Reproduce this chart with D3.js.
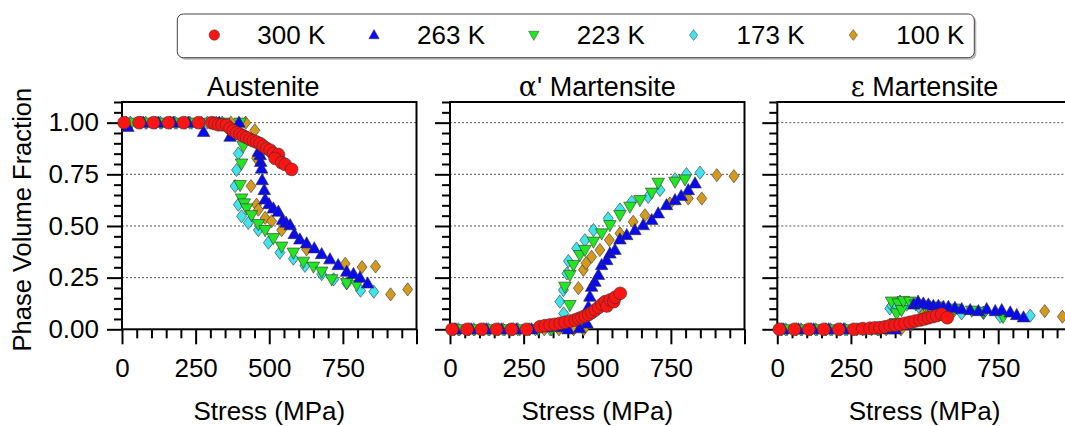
<!DOCTYPE html>
<html lang="en">
  <head>
    <meta charset="utf-8">
    <script src="https://d3js.org/d3.v7.min.js"></script>
    <title>Phase Volume Fraction</title>
    <style>
      body {
        margin: 0;
        background-color: #fff;
      }
      svg {
        font-family: "Liberation Sans", Arial, sans-serif;
        display: block;
      }
      .grid {
        stroke: #555;
        stroke-width: 1;
        stroke-dasharray: 2, 2;
      }
      .tick line {
        stroke: #000;
        stroke-width: 2;
      }
    </style>
  </head>
  <body>
    <script>
      // legend + panels
      const temps = ['300 K', '263 K', '223 K', '173 K', '100 K'];
      const phases = ['Austenite', "\u03b1' Martensite", '\u03b5 Martensite'];
      const xTicks = [0, 250, 500, 750, 1000];
      const xLabels = ['0', '250', '500', '750', ''];
      const yTicks = [0, 0.25, 0.5, 0.75, 1.0];

      // [stress MPa, fraction]
      const aus300 = [[7,1],[58,1],[107,1],[158,1],[209,1],[260,1],[305,1],[316,0.995],[328,0.99],[340,0.99],[355,0.988],[367,0.972],[378,0.961],[389,0.951],[401,0.944],[412,0.936],[423,0.928],[435,0.919],[446,0.912],[457,0.906],[469,0.899],[480,0.886],[491,0.875],[503,0.867],[514,0.851],[531,0.846],[520,0.827],[542,0.806],[554,0.798],[576,0.774]];
      const alpha300 = [[7,0],[58,0],[107,0],[158,0],[209,0],[260,0],[306,0.013],[323,0.018],[340,0.021],[357,0.024],[374,0.029],[391,0.034],[408,0.04],[425,0.045],[437,0.052],[448,0.058],[459,0.064],[471,0.072],[482,0.082],[493,0.093],[505,0.106],[516,0.121],[527,0.134],[533,0.113],[544,0.142],[556,0.134],[561,0.155],[578,0.174]];
      const eps300 = [[7,0],[58,0],[107,0],[158,0],[209,0],[260,0],[290,0.003],[315,0.005],[332,0.007],[349,0.008],[366,0.012],[383,0.018],[400,0.02],[417,0.024],[434,0.029],[451,0.034],[468,0.04],[485,0.045],[499,0.05],[513,0.056],[527,0.061],[541,0.066],[558,0.073],[577,0.056]];

      const aus263 = [[20,0.98],[72,1],[123,1],[174,1],[225,1],[277,0.955],[330,1],[367,0.932],[397,1],[463,0.859],[469,0.843],[471,0.81],[474,0.778],[476,0.722],[483,0.674],[486,0.629],[499,0.606],[514,0.585],[531,0.569],[545,0.529],[557,0.516],[571,0.504],[585,0.461],[604,0.435],[627,0.416],[653,0.392],[678,0.364],[706,0.339],[734,0.311],[763,0.279],[786,0.268],[808,0.25],[834,0.222]];
      const alpha263 = [[20,0],[72,0],[123,0],[174,0],[225,0],[277,0],[330,0.01],[379,0.01],[401,0],[440,0.005],[465,0.029],[470,0.109],[475,0.158],[481,0.206],[492,0.23],[504,0.263],[515,0.311],[532,0.335],[543,0.367],[560,0.384],[577,0.435],[600,0.456],[628,0.48],[656,0.504],[685,0.529],[707,0.561],[735,0.601],[764,0.625],[785,0.645],[809,0.674],[832,0.706]];
      const eps263 = [[20,0],[72,0],[123,0],[174,0],[225,0],[277,0],[330,0],[379,0],[401,0],[440,0.02],[463,0.12],[478,0.134],[496,0.125],[513,0.12],[530,0.114],[547,0.114],[564,0.109],[581,0.109],[603,0.104],[626,0.098],[655,0.093],[683,0.088],[711,0.098],[740,0.088],[762,0.093],[791,0.082],[813,0.069],[836,0.058]];

      const aus223 = [[33,1],[84,1],[135,1],[186,1],[237,1],[299,1],[345,1],[401,1],[412,0.886],[406,0.802],[401,0.698],[406,0.633],[415,0.609],[423,0.585],[440,0.552],[463,0.509],[486,0.48],[514,0.441],[542,0.4],[582,0.371],[616,0.327],[650,0.303],[678,0.279],[712,0.242],[763,0.223],[797,0.215]];
      const alpha223 = [[33,0],[84,0],[135,0],[186,0],[237,0],[299,0],[345,0],[401,0.02],[407,0.117],[390,0.206],[407,0.263],[419,0.311],[441,0.359],[458,0.384],[487,0.424],[515,0.464],[543,0.504],[577,0.553],[611,0.593],[645,0.625],[685,0.661],[707,0.709],[764,0.714],[798,0.725]];
      const eps223 = [[33,0],[84,0],[135,0],[186,0],[237,0],[299,0],[345,0],[401,0.03],[405,0.077],[388,0.134],[411,0.125],[422,0.093],[428,0.137],[450,0.134],[470,0.12],[500,0.115],[540,0.11],[600,0.1],[660,0.09],[700,0.085],[767,0.06]];

      const aus173 = [[28,1],[80,1],[130,1],[180,1],[230,1],[290,1],[340,1],[395,0.851],[389,0.771],[384,0.693],[395,0.603],[406,0.547],[429,0.515],[463,0.48],[497,0.419],[536,0.371],[582,0.342],[621,0.307],[678,0.267],[719,0.242],[763,0.223],[810,0.187],[855,0.182]];
      const alpha173 = [[28,0],[80,0],[130,0],[180,0],[230,0],[290,0],[340,0],[386,0.077],[373,0.134],[385,0.19],[397,0.27],[402,0.33],[430,0.391],[458,0.431],[487,0.48],[537,0.537],[577,0.58],[617,0.617],[673,0.641],[713,0.674],[764,0.726],[803,0.751],[849,0.758]];
      const eps173 = [[28,0],[80,0],[130,0],[180,0],[230,0],[290,0],[340,0],[382,0.101],[389,0.115],[400,0.125],[417,0.134],[440,0.12],[480,0.11],[540,0.1],[626,0.077],[700,0.08],[757,0.061],[859,0.066]];

      const aus100 = [[15,1],[65,1],[115,1],[165,1],[215,1],[270,1],[320,1],[370,1],[420,1],[451,0.963],[457,0.827],[438,0.693],[457,0.603],[463,0.579],[486,0.539],[508,0.523],[542,0.48],[627,0.387],[758,0.317],[815,0.301],[861,0.304],[912,0.169],[970,0.193]];
      const alpha100 = [[15,0],[65,0],[115,0],[165,0],[215,0],[270,0],[320,0],[370,0],[420,0],[454,0],[436,0.199],[453,0.288],[462,0.32],[481,0.351],[509,0.384],[541,0.432],[577,0.464],[622,0.52],[662,0.552],[747,0.609],[809,0.633],[855,0.633],[906,0.746],[964,0.741]];
      const eps100 = [[15,0],[65,0],[115,0],[165,0],[215,0],[270,0],[320,0],[370,0],[420,0],[454,0.02],[500,0.08],[600,0.09],[700,0.08],[908,0.088],[968,0.061]];

      const colors = ['#ff1414', '#0a0af0', '#22e622', '#40e4ea', '#d49a1e'];
      const shapes = [
        'M6.4,0A6.4,6.4,0,1,1,-6.4,0A6.4,6.4,0,1,1,6.4,0Z',
        'M0,-6.6L6.3,4.6L-6.3,4.6Z',
        'M0,6.6L6.3,-4.6L-6.3,-4.6Z',
        'M0,-6.6L5,0L0,6.6L-5,0Z',
        'M0,-6.6L5,0L0,6.6L-5,0Z'
      ];
      const panelData = [
        [aus300, aus263, aus223, aus173, aus100],
        [alpha300, alpha263, alpha223, alpha173, alpha100],
        [eps300, eps263, eps223, eps173, eps100]
      ];

      const width = 1065, height = 426;
      const panelLeft = [122, 450, 777.3];
      const panelW = 294.5;
      const plotTop = 102, plotBottom = 329.3;
      const fontSize = 26;

      const svg = d3.select('body').append('svg')
        .attr('width', width)
        .attr('height', height);

      const yScale = d3.scaleLinear().domain([0, 1.1]).range([plotBottom, plotTop]);
      const yMinor = d3.range(0, 1.1001, 0.05).filter(v => Math.abs(v * 4 - Math.round(v * 4)) > 1e-6);
      const xMinor = d3.range(0, 1000.1, 50).filter(v => v % 250 !== 0);

      phases.forEach((phase, p) => {
        const x0 = panelLeft[p];
        const xScale = d3.scaleLinear().domain([0, 1000]).range([x0, x0 + panelW]);
        const g = svg.append('g');

        g.selectAll('.grid')
          .data(yTicks.filter(v => v > 0))
          .enter()
          .append('line')
            .attr('class', 'grid')
            .attr('x1', x0)
            .attr('x2', x0 + panelW)
            .attr('y1', d => yScale(d))
            .attr('y2', d => yScale(d));

        // frame
        g.append('rect')
          .attr('x', x0)
          .attr('y', plotTop)
          .attr('width', panelW)
          .attr('height', plotBottom - plotTop)
          .attr('fill', 'none')
          .attr('stroke', '#000')
          .attr('stroke-width', 2);

        // y axis (labels on first panel only)
        const yMajor = d3.axisLeft(yScale).tickValues(yTicks).tickSize(15).tickPadding(8)
          .tickFormat(p === 0 ? d3.format('.2f') : '');
        g.append('g').attr('transform', 'translate(' + x0 + ',0)').call(yMajor)
          .attr('font-size', fontSize).attr('font-family', null);
        g.append('g').attr('transform', 'translate(' + x0 + ',0)')
          .call(d3.axisLeft(yScale).tickValues(yMinor).tickSize(8).tickFormat(''));

        const xMajor = d3.axisBottom(xScale).tickValues(xTicks).tickSize(15).tickPadding(14)
          .tickFormat((d, i) => xLabels[i]);
        g.append('g').attr('transform', 'translate(0,' + plotBottom + ')').call(xMajor)
          .attr('font-size', fontSize).attr('font-family', null);
        g.append('g').attr('transform', 'translate(0,' + plotBottom + ')')
          .call(d3.axisBottom(xScale).tickValues(xMinor).tickSize(9).tickFormat(''));

        g.selectAll('.domain').remove();
        g.selectAll('.tick text').attr('fill', '#000');

        // title
        const title = g.append('text')
          .attr('x', x0 + panelW / 2 + (p === 0 ? -6 : 0))
          .attr('y', 96)
          .attr('text-anchor', 'middle')
          .attr('font-size', 27);
        if (p === 0) {
          title.text(phase);
        } else {
          title.append('tspan').attr('font-family', '"DejaVu Serif", serif').text(phase.charAt(0));
          title.append('tspan').text(phase.slice(1));
        }

        g.append('text')
          .attr('x', x0 + panelW / 2)
          .attr('y', 420)
          .attr('text-anchor', 'middle')
          .attr('font-size', fontSize)
          .text('Stress (MPa)');

        // markers, red on top
        for (let s = temps.length - 1; s >= 0; s--) {
          g.selectAll('.m' + s)
            .data(panelData[p][s])
            .enter()
            .append('path')
              .attr('class', 'm' + s)
              .attr('d', shapes[s])
              .attr('transform', d => 'translate(' + xScale(d[0]) + ',' + yScale(d[1]) + ')')
              .attr('fill', colors[s])
              .attr('stroke', '#333')
              .attr('stroke-width', 0.6);
        }
      });

      svg.append('text')
        .attr('transform', 'translate(31,' + ((plotTop + plotBottom) / 2 + 4) + ') rotate(-90)')
        .attr('text-anchor', 'middle')
        .attr('font-size', 25.5)
        .text('Phase Volume Fraction');

      // legend
      const legend = svg.append('g');
      legend.append('rect')
        .attr('x', 179.3).attr('y', 16)
        .attr('width', 797).attr('height', 43.7)
        .attr('rx', 6).attr('fill', '#bbb');
      legend.append('rect')
        .attr('x', 177.3).attr('y', 14)
        .attr('width', 797).attr('height', 43.7)
        .attr('rx', 6).attr('fill', '#fff')
        .attr('stroke', '#444').attr('stroke-width', 1);

      const items = legend.selectAll('.item')
        .data(temps)
        .enter()
        .append('g')
          .attr('class', 'item')
          .attr('transform', (d, i) => 'translate(' + (214.3 + i * 159.75) + ',35)');
      items.append('path')
        .attr('d', (d, i) => shapes[i])
        .attr('transform', 'scale(0.82)')
        .attr('fill', (d, i) => colors[i])
        .attr('stroke', '#333')
        .attr('stroke-width', 0.6);
      items.append('text')
        .attr('x', 43)
        .attr('y', 9)
        .attr('font-size', fontSize)
        .text(d => d);
    </script>
  </body>
</html>
